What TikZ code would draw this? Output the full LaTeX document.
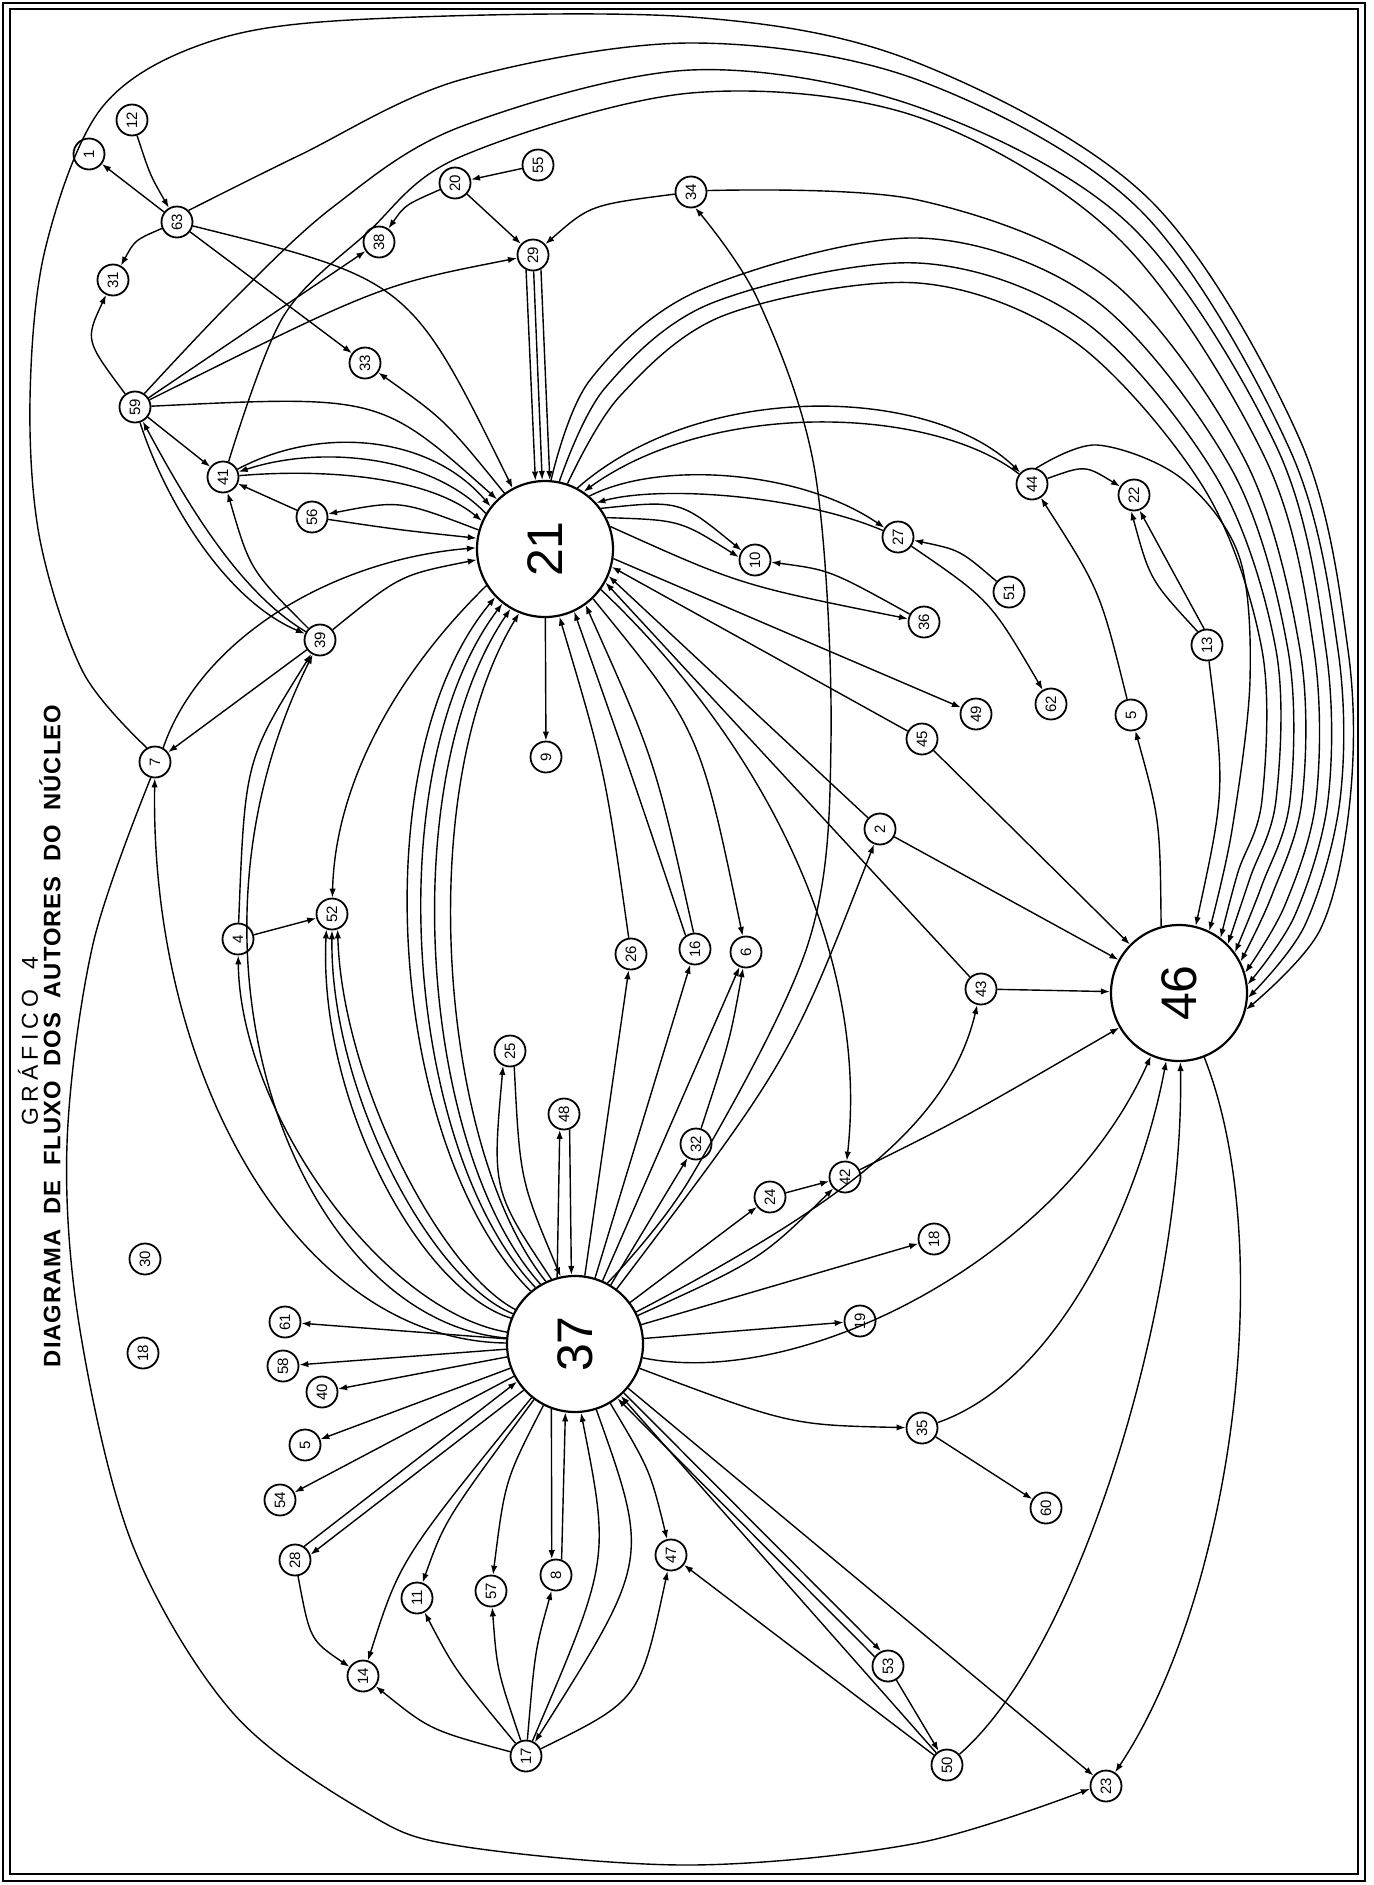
\documentclass[tikz,border=0pt]{standalone}
\usepackage{fontspec}
\setmainfont{Liberation Sans}
\newfontfamily\titlefont[LetterSpace=4]{Liberation Sans}
\usetikzlibrary{arrows.meta}
\newcommand{\snode}[4]{\node[sn] (#1) at (#3,#4) {\rotatebox{90}{#2}};}
\begin{document}
\begin{tikzpicture}[x=0.5pt,y=-0.5pt,
  sn/.style={circle,draw,line width=0.9pt,minimum size=15.5pt,inner sep=0pt,font=\fontsize{7.5}{8}\selectfont},
  bn/.style={circle,draw,line width=1.1pt,minimum size=68pt,inner sep=0pt,font=\fontsize{25}{28}\selectfont},
  ed/.style={line width=0.7pt,-{Latex[length=4.5pt,width=3.2pt]}},
  ln/.style={line width=0.7pt}]
\useasboundingbox (0,0) rectangle (1374,1885);
\fill[white] (0,0) rectangle (1374,1885);
\draw[line width=1pt] (3,3) rectangle (1365,1881);
\draw[line width=0.8pt] (10,9) rectangle (1358,1874);

% titles
\node[rotate=90,font=\fontsize{11.5}{14}\selectfont] (subtitle) at (28,1041) {\makebox[84pt][s]{G R Á F I C O \hspace{5pt} 4}};
\node[rotate=90,font=\titlefont\bfseries\fontsize{11.9}{14}\selectfont] (title) at (50,1036) {\makebox[331pt][s]{DIAGRAMA DE FLUXO DOS AUTORES DO NÚCLEO}};

% big nodes
\node[bn] (n21) at (545,549) {\rotatebox{90}{21}};
\node[bn] (n37) at (575,1344) {\rotatebox{90}{37}};
\node[bn] (n46) at (1179,993) {\rotatebox{90}{46}};

% small nodes
\snode{n1}{1}{89}{154}
\snode{n12}{12}{132}{120}
\snode{n63}{63}{177}{222}
\snode{n31}{31}{113}{280}
\snode{n20}{20}{455}{183}
\snode{n55}{55}{538}{165}
\snode{n38}{38}{379}{242}
\snode{n29}{29}{533}{255}
\snode{n34}{34}{691}{192}
\snode{n33}{33}{365}{363}
\snode{n59}{59}{135}{407}
\snode{n41}{41}{223}{477}
\snode{n56}{56}{312}{517}
\snode{n39}{39}{320}{640}
\snode{n7}{7}{155}{762}
\snode{n52}{52}{332}{914}
\snode{n4}{4}{238}{939}
\snode{n9}{9}{546}{757}
\snode{n27}{27}{898}{537}
\snode{n10}{10}{755}{560}
\snode{n36}{36}{924}{622}
\snode{n51}{51}{1009}{592}
\snode{n44}{44}{1032}{484}
\snode{n22}{22}{1134}{495}
\snode{n13}{13}{1207}{645}
\snode{n62}{62}{1051}{704}
\snode{n49}{49}{976}{714}
\snode{n5a}{5}{1131}{715}
\snode{n45}{45}{922}{739}
\snode{n2}{2}{880}{829}
\snode{n43}{43}{981}{989}
\snode{n26}{26}{631}{954}
\snode{n16}{16}{695}{949}
\snode{n6}{6}{746}{952}
\snode{n25}{25}{510}{1051}
\snode{n48}{48}{564}{1114}
\snode{n32}{32}{696}{1144}
\snode{n24}{24}{770}{1197}
\snode{n42}{42}{845}{1177}
\snode{n18r}{18}{934}{1239}
\snode{n19}{19}{860}{1321}
\snode{n30}{30}{145}{1259}
\snode{n18l}{18}{143}{1353}
\snode{n61}{61}{285}{1322}
\snode{n58}{58}{283}{1366}
\snode{n40}{40}{322}{1392}
\snode{n5b}{5}{305}{1445}
\snode{n54}{54}{280}{1500}
\snode{n28}{28}{295}{1560}
\snode{n11}{11}{417}{1598}
\snode{n14}{14}{363}{1676}
\snode{n57}{57}{491}{1591}
\snode{n8}{8}{556}{1575}
\snode{n47}{47}{671}{1555}
\snode{n17}{17}{526}{1756}
\snode{n53}{53}{888}{1666}
\snode{n35}{35}{922}{1428}
\snode{n60}{60}{1046}{1508}
\snode{n50}{50}{947}{1765}
\snode{n23}{23}{1106}{1786}

% ---- long arcs into 46 over the top ----
\draw[ed] plot[smooth,tension=0.55] coordinates {(n7.120) (83,672) (40,540) (30,400) (45,250) (100,110) (200,45) (350,20) (691,17) (918,63) (1150,200) (1300,440) (1348,650) (1350,800) (1320,930) (n46.-14)};
\draw[ed] plot[smooth,tension=0.55] coordinates {(n63.45) (300,155) (460,80) (691,43) (918,80) (1140,210) (1290,450) (1338,650) (1340,800) (1305,925) (n46.-4)};
\draw[ed] plot[smooth,tension=0.55] coordinates {(n59.55) (233,300) (333,207) (460,127) (691,70) (918,107) (1130,225) (1278,450) (1326,650) (1328,800) (1295,915) (n46.7)};
\draw[ed] plot[smooth,tension=0.55] coordinates {(n41.70) (283,317) (367,233) (460,157) (691,93) (918,117) (1120,240) (1266,460) (1314,650) (1316,800) (1285,905) (n46.17)};
\draw[ed] plot[smooth,tension=0.55] coordinates {(n34.5) (918,200) (1110,280) (1245,460) (1300,650) (1302,800) (1272,895) (n46.27)};
\draw[ed] plot[smooth,tension=0.55] coordinates {(n21.85) (590,380) (700,290) (918,238) (1095,300) (1232,470) (1288,650) (1290,800) (1262,885) (n46.36)};
\draw[ed] plot[smooth,tension=0.55] coordinates {(n21.78) (605,388) (712,303) (918,263) (1085,322) (1218,480) (1276,650) (1276,800) (1250,878) (n46.45)};
\draw[ed] plot[smooth,tension=0.55] coordinates {(n21.71) (620,396) (725,315) (918,283) (1075,342) (1205,490) (1262,650) (1262,800) (1238,872) (n46.53)};
\draw[ed] plot[smooth,tension=0.55] coordinates {(n44.75) (1097,445) (1181,478) (1239,556) (1250,680) (1232,830) (n46.64)};
\draw[ed] (n13) .. controls (1225,790) .. (n46.76);
\draw[ed] plot[smooth,tension=0.55] coordinates {(n7.-105) (93,944) (67,1144) (80,1330) (133,1546) (233,1713) (367,1813) (460,1846) (691,1865) (918,1843) (n23.-170)};
\draw[ed] plot[smooth,tension=0.55] coordinates {(n37.62) (691,1177) (808,944) (831,739) (815,472) (758,300) (n34.-75)};

% ---- top-left cluster ----
\draw[ed] (n12) .. controls (150,175) .. (n63);
\draw[ed] (n63) -- (n1);
\draw[ed] (n63) .. controls (135,240) .. (n31);
\draw[ed] (n63) -- (n33);
\draw[ed] (n63) .. controls (410,280) .. (n21.118);
\draw[ed] (n21.126) .. controls (445,420) .. (n33);
\draw[ed] (n55) -- (n20);
\draw[ed] (n20) .. controls (405,205) .. (n38);
\draw[ed] (n20) -- (n29);
\draw[ed] (n34) .. controls (590,205) .. (n29);
\draw[ed] (n29.-115) -- (n21.98);
\draw[ed] (n29) -- (n21);
\draw[ed] (n29.-61) -- (n21.86);
\draw[ed] (n59) .. controls (85,340) .. (n31);
\draw[ed] (n59) -- (n38);
\draw[ed] (n59) .. controls (380,285) .. (n29);
\draw[ed] (n59) .. controls (380,395) .. (n21.134);
\draw[ed] (n59) -- (n41);
\draw[ed] (n59) .. controls (165,500) and (225,600) .. (n39);
\draw[ed] (n39) .. controls (235,590) and (180,490) .. (n59);
\draw[ed] (n41) .. controls (320,425) and (430,435) .. (n21.142);
\draw[ed] (n21.149) .. controls (430,455) and (320,445) .. (n41);
\draw[ed] (n41) .. controls (330,468) and (430,478) .. (n21.156);
\draw[ed] (n56) -- (n41);
\draw[ed] (n21.164) .. controls (400,500) .. (n56);
\draw[ed] (n56) .. controls (400,530) .. (n21.171);
\draw[ed] (n39) .. controls (250,570) .. (n41);
\draw[ed] (n7.60) .. controls (200,640) and (330,560) .. (n21.179);
\draw[ed] (n39) .. controls (400,575) .. (n21.189);
\draw[ed] (n39) -- (n7);
\draw[ed] (n4) .. controls (245,760) .. (n39);
\draw[ed] (n4) -- (n52);
\draw[ed] (n21.-148) .. controls (390,680) and (335,790) .. (n52);
\draw[ed] (n21) -- (n9);

% ---- right of 21 ----
\draw[ed] (n21.50) .. controls (660,460) and (800,470) .. (n27);
\draw[ed] (n27) .. controls (800,495) and (660,485) .. (n21.42);
\draw[ed] (n21.62) .. controls (700,380) and (930,385) .. (n44);
\draw[ed] (n44) .. controls (930,405) and (710,400) .. (n21.56);
\draw[ed] (n51) .. controls (960,550) .. (n27);
\draw[ed] (n27) .. controls (990,600) .. (n62);
\draw[ed] (n21.36) .. controls (680,500) .. (n10.145);
\draw[ed] (n21.27) .. controls (680,520) .. (n10.170);
\draw[ed] (n36) .. controls (830,570) .. (n10);
\draw[ed] (n21.19) .. controls (740,585) .. (n36);
\draw[ed] (n21.-8) -- (n49);
\draw[ed] (n45) -- (n21.-15);
\draw[ed] (n2) -- (n21.-23);
\draw[ed] (n43) -- (n21.-29);
\draw[ed] (n21.-36) .. controls (760,740) and (870,950) .. (n42);
\draw[ed] (n21.-46) .. controls (700,730) .. (n6);
\draw[ed] (n16.95) .. controls (655,760) .. (n21.-54);
\draw[ed] (n16.125) .. controls (630,770) .. (n21.-65);
\draw[ed] (n26) .. controls (605,770) .. (n21.-78);
\draw[ed] (n45) -- (n46);
\draw[ed] (n2) -- (n46);
\draw[ed] (n43) -- (n46);
\draw[ed] (n46.105) .. controls (1160,820) .. (n5a);
\draw[ed] (n5a) .. controls (1100,590) .. (n44);
\draw[ed] (n44) .. controls (1085,465) .. (n22);
\draw[ed] (n13.125) .. controls (1150,580) .. (n22.-100);
\draw[ed] (n13.100) .. controls (1172,570) .. (n22.-70);

% ---- 37 to 21 and left fan ----
\draw[ed] (n37.130) .. controls (390,1150) and (360,760) .. (n21.-136);
\draw[ed] (n37.125) .. controls (405,1150) and (377,770) .. (n21.-128);
\draw[ed] (n37.120) .. controls (420,1150) and (394,780) .. (n21.-120);
\draw[ed] (n37.115) .. controls (440,1150) and (412,790) .. (n21.-112);
\draw[ed] (n37.158) .. controls (420,1290) and (318,1100) .. (n52.-110);
\draw[ed] (n37.154) .. controls (430,1280) and (330,1090) .. (n52.-90);
\draw[ed] (n37.150) .. controls (440,1270) and (342,1080) .. (n52.-70);
\draw[ed] (n37) .. controls (380,1310) and (240,1110) .. (n4);
\draw[ed] (n37) .. controls (300,1340) and (150,1080) .. (n7);
\draw[ed] (n37) .. controls (300,1320) and (160,960) .. (n39);
\draw[ed] (n37) -- (n61);
\draw[ed] (n37) -- (n58);
\draw[ed] (n37) -- (n40);
\draw[ed] (n37) -- (n5b);
\draw[ed] (n37) -- (n54);
\draw[ed] (n37.-138) -- (n28.19);
\draw[ed] (n28.56) -- (n37.-147);
\draw[ed] (n28) .. controls (310,1640) .. (n14);
\draw[ed] (n37) .. controls (400,1560) .. (n14);
\draw[ed] (n17) .. controls (430,1730) .. (n14);
\draw[ed] (n37) .. controls (445,1520) .. (n11);
\draw[ed] (n17) .. controls (455,1670) .. (n11);
\draw[ed] (n37) .. controls (505,1480) .. (n57);
\draw[ed] (n17) .. controls (497,1670) .. (n57);
\draw[ed] (n37.-110) -- (n8.105);
\draw[ed] (n8.70) -- (n37.-98);
\draw[ed] (n17) .. controls (535,1650) .. (n8);
\draw[ed] (n17) .. controls (610,1560) .. (n37.-85);
\draw[ed] (n37.-72) .. controls (650,1560) .. (n17);
\draw[ed] (n37) .. controls (650,1470) .. (n47);
\draw[ed] (n17) .. controls (640,1700) .. (n47);
\draw[ed] (n50) -- (n47);

% ---- 37 upward / right ----
\draw[ed] (n37.110) .. controls (492,1190) .. (n25.-115);
\draw[ed] (n25.-75) .. controls (520,1180) .. (n37.102);
\draw[ed] (n37.105) -- (n48.-105);
\draw[ed] (n48.-70) -- (n37.93);
\draw[ed] (n37) -- (n26);
\draw[ed] (n37) -- (n16);
\draw[ed] (n37) -- (n6);
\draw[ed] (n37) -- (n32);
\draw[ed] (n32) .. controls (730,1040) .. (n6);
\draw[ed] (n37) .. controls (790,1060) .. (n2);
\draw[ed] (n37) -- (n24);
\draw[ed] (n24) -- (n42);
\draw[ed] (n37) .. controls (760,1260) .. (n42);
\draw[ed] (n42) .. controls (960,1120) .. (n46);
\draw[ed] (n37) .. controls (850,1200) and (950,1120) .. (n43);
\draw[ed] (n37) -- (n18r);
\draw[ed] (n37) -- (n19);
\draw[ed] (n37) .. controls (800,1390) and (1060,1260) .. (n46);
\draw[ed] (n37) .. controls (790,1425) .. (n35);
\draw[ed] (n35) -- (n60);
\draw[ed] (n35) .. controls (1060,1380) and (1140,1200) .. (n46);
\draw[ed] (n37.-45) -- (n53.115);
\draw[ed] (n53.145) -- (n37.-52);
\draw[ed] (n53) -- (n50);
\draw[ed] (n50) -- (n37);
\draw[ed] (n50) .. controls (1080,1650) and (1185,1300) .. (n46);
\draw[ed] (n46) .. controls (1280,1250) and (1230,1600) .. (n23);
\draw[ed] (n37) -- (n23);
\end{tikzpicture}
\end{document}
